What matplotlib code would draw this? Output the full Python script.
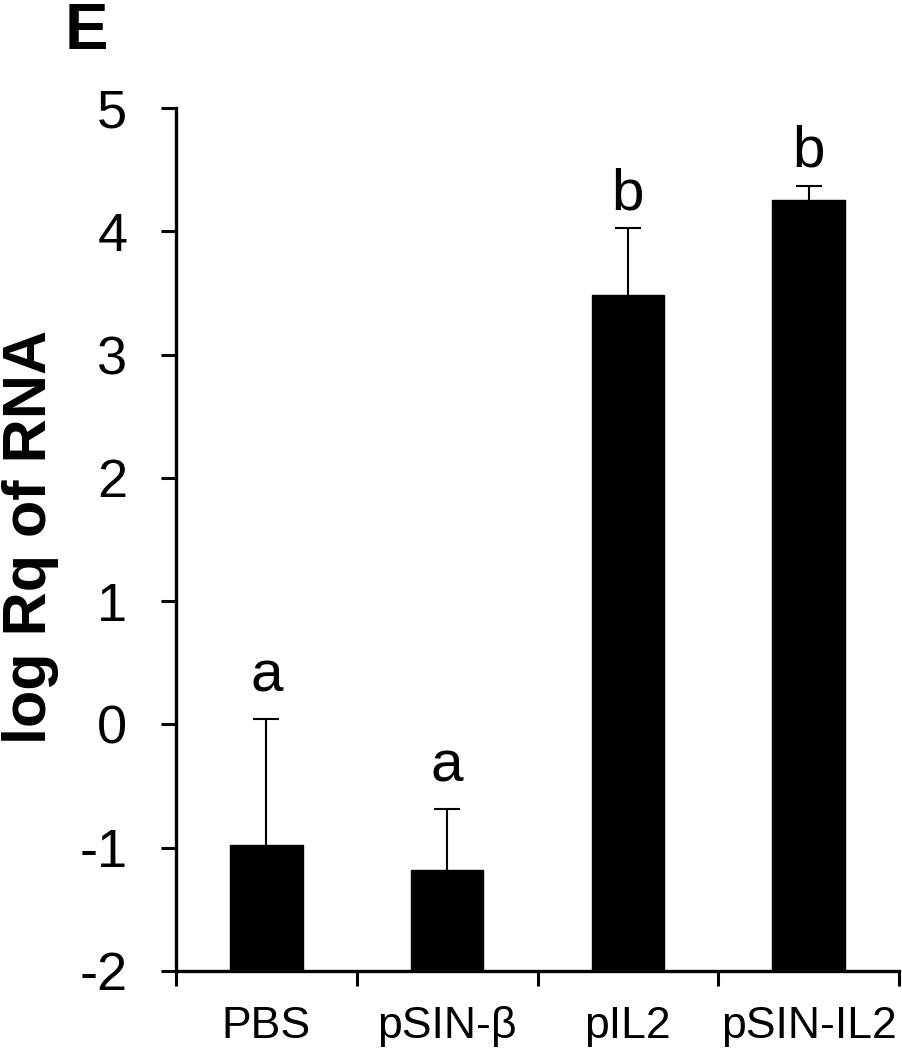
import matplotlib
matplotlib.use("Agg")
import matplotlib.pyplot as plt
import numpy as np

plt.rcParams['font.family'] = ['Liberation Sans', 'DejaVu Sans']

# ---- data ----
categories = ["PBS", "pSIN-\u03b2", "pIL2", "pSIN-IL2"]
means = [-0.98, -1.18, 3.48, 4.25]
err_up = [1.02, 0.49, 0.55, 0.12]
letters = ["a", "a", "b", "b"]
letter_gap_pt = [20, 20, 13, 14]
yticks = [-2, -1, 0, 1, 2, 3, 4, 5]

fig = plt.figure(figsize=(9.02, 10.5), dpi=100)
ax = fig.add_axes([176/902, 1-971/1050, (899-176)/902, (971-108)/1050])

x = np.arange(len(categories))
bottom = -2
ax.bar(x, np.array(means) - bottom, bottom=bottom, width=0.4, color='black',
       edgecolor='black', zorder=2)
eb = ax.errorbar(x, means, yerr=[np.zeros(len(means)), err_up], fmt='none',
                 ecolor='black', elinewidth=1.5, capsize=9.5, capthick=1.5, zorder=1)
# keep only the upper caps
eb[1][0].set_visible(False)

for xi, m, e, lab, g in zip(x, means, err_up, letters, letter_gap_pt):
    ax.annotate(lab, (xi, m + e), xytext=(0, g), textcoords='offset points',
                ha='center', va='baseline', fontsize=42)

ax.set_xlim(-0.5, len(categories) - 0.5)
ax.set_ylim(-2, 5)
ax.set_yticks(yticks)
ax.set_yticklabels([str(t) for t in yticks])
ax.tick_params(axis='y', labelsize=39, length=11, width=2.2, pad=24, direction='out')

ax.set_xticks(x)
ax.set_xticklabels(categories)
ax.set_xticks(np.arange(-0.5, len(categories)), minor=True)
ax.tick_params(axis='x', which='major', length=0, labelsize=32, pad=25)
ax.tick_params(axis='x', which='minor', length=11, width=2.2, direction='out')

for s in ['top', 'right']:
    ax.spines[s].set_visible(False)
for s in ['left', 'bottom']:
    ax.spines[s].set_linewidth(2.4)

fig.text(31/902, 1-537/1050, "log Rq of RNA", rotation=90, ha='center', va='center',
         fontsize=44, fontweight='bold')
fig.text(65/902, 1-2/1050, "E", ha='left', va='top', fontsize=47, fontweight='bold')

fig.savefig("out.png", dpi=100)
